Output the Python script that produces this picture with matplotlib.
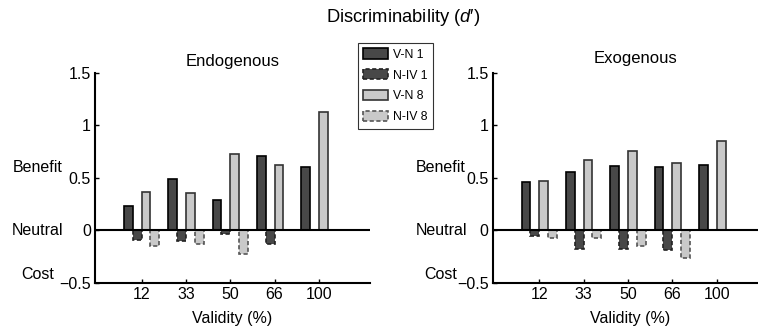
import numpy as np
import matplotlib
matplotlib.use('Agg')
import matplotlib.pyplot as plt
from matplotlib.patches import Patch
from matplotlib.transforms import blended_transform_factory
from matplotlib.ticker import FuncFormatter

# 数据
lstValidity = ['12', '33', '50', '66', '100']
lstSeries = ['V-N 1', 'N-IV 1', 'V-N 8', 'N-IV 8']
lstPanels = ['Endogenous', 'Exogenous']

arrEndoVN1 = [0.23, 0.49, 0.29, 0.71, 0.60]
arrEndoNIV1 = [-0.09, -0.10, -0.03, -0.13, np.nan]
arrEndoVN8 = [0.37, 0.36, 0.73, 0.62, 1.13]
arrEndoNIV8 = [-0.15, -0.13, -0.22, np.nan, np.nan]

arrExoVN1 = [0.46, 0.56, 0.61, 0.60, 0.62]
arrExoNIV1 = [-0.05, -0.175, -0.175, -0.185, np.nan]
arrExoVN8 = [0.47, 0.675, 0.76, 0.64, 0.85]
arrExoNIV8 = [-0.07, -0.07, -0.15, -0.26, np.nan]

lstYLevels = ['Benefit', 'Neutral', 'Cost']
lstYLevelPos = [0.6, 0.0, -0.42]

# 样式
plt.rcParams['font.family'] = ['Liberation Sans', 'DejaVu Sans']
plt.rcParams['mathtext.fontset'] = 'custom'
plt.rcParams['mathtext.rm'] = 'Liberation Sans'
plt.rcParams['mathtext.it'] = 'Liberation Sans:italic'
plt.rcParams['axes.unicode_minus'] = True

sDark = '#484848'
sLight = '#c9c9c9'
lstColors = [sDark, sDark, sLight, sLight]
lstStyles = ['solid', (0, (2.5, 1.5)), 'solid', (0, (2.5, 1.5))]
lstEdges = ['black', '#222222', '#333333', '#555555']
lstOffsets = [-0.3, -0.1, 0.1, 0.3]
fWidth = 0.2
fFont = 11.5

fig = plt.figure(figsize=(7.58, 3.35), dpi=100)
lstAxPos = [[0.1253, 0.1552, 0.3628, 0.627], [0.650, 0.1552, 0.3628, 0.627]]
lstData = [
	[arrEndoVN1, arrEndoNIV1, arrEndoVN8, arrEndoNIV8],
	[arrExoVN1, arrExoNIV1, arrExoVN8, arrExoNIV8],
]
lstLevelX = [0.05, 0.582]
lstTitleX = [0.5, 0.52]
lstTitleY = [1.055, 1.07]

x = np.arange(1, len(lstValidity) + 1)
for i, sPanel in enumerate(lstPanels):
	ax = fig.add_axes(lstAxPos[i])
	for j in range(len(lstSeries)):
		ax.bar(x + lstOffsets[j], lstData[i][j], fWidth, color=lstColors[j],
			edgecolor=lstEdges[j], linestyle=lstStyles[j], linewidth=1.2, zorder=2)
	ax.axhline(0, color='black', linewidth=1.5, zorder=3)
	ax.set_xlim(-0.05, 6.15)
	ax.set_ylim(-0.5, 1.5)
	ax.set_xticks(x)
	ax.set_xticklabels(lstValidity)
	ax.set_yticks([-0.5, 0, 0.5, 1, 1.5])
	ax.yaxis.set_major_formatter(FuncFormatter(lambda v, p: ('%g' % v).replace('-', '\u2212')))
	ax.tick_params(direction='in', length=3, width=1, labelsize=fFont, pad=3)
	for s in ['top', 'right']:
		ax.spines[s].set_visible(False)
	for s in ['left', 'bottom']:
		ax.spines[s].set_linewidth(1.5)
	ax.set_xlabel('Validity (%)', fontsize=fFont, labelpad=6)
	ax.text(lstTitleX[i], lstTitleY[i], sPanel, transform=ax.transAxes, ha='center', va='center', fontsize=12)
	# Benefit / Neutral / Cost
	objTrans = blended_transform_factory(fig.transFigure, ax.transData)
	for sLevel, fPos in zip(lstYLevels, lstYLevelPos):
		ax.text(lstLevelX[i], fPos, sLevel, transform=objTrans, ha='center', va='center',
			fontsize=fFont, clip_on=False)

# 图例
lstHandles = [Patch(facecolor=lstColors[j], edgecolor=lstEdges[j], linestyle=lstStyles[j], linewidth=1.2)
	for j in range(len(lstSeries))]
objLeg = fig.legend(lstHandles, lstSeries, loc='upper left', bbox_to_anchor=(0.472, 0.872),
	fontsize=8.8, frameon=True, fancybox=False, handlelength=2.05, handleheight=0.9,
	handletextpad=0.4, labelspacing=0.7, borderpad=0.45, borderaxespad=0)
objLeg.get_frame().set_edgecolor('black')
objLeg.get_frame().set_linewidth(0.8)

fig.text(0.532, 0.949, "Discriminability ($d$\u2032)", ha='center', va='center', fontsize=13.2)

plt.savefig('out.png', dpi=100)
